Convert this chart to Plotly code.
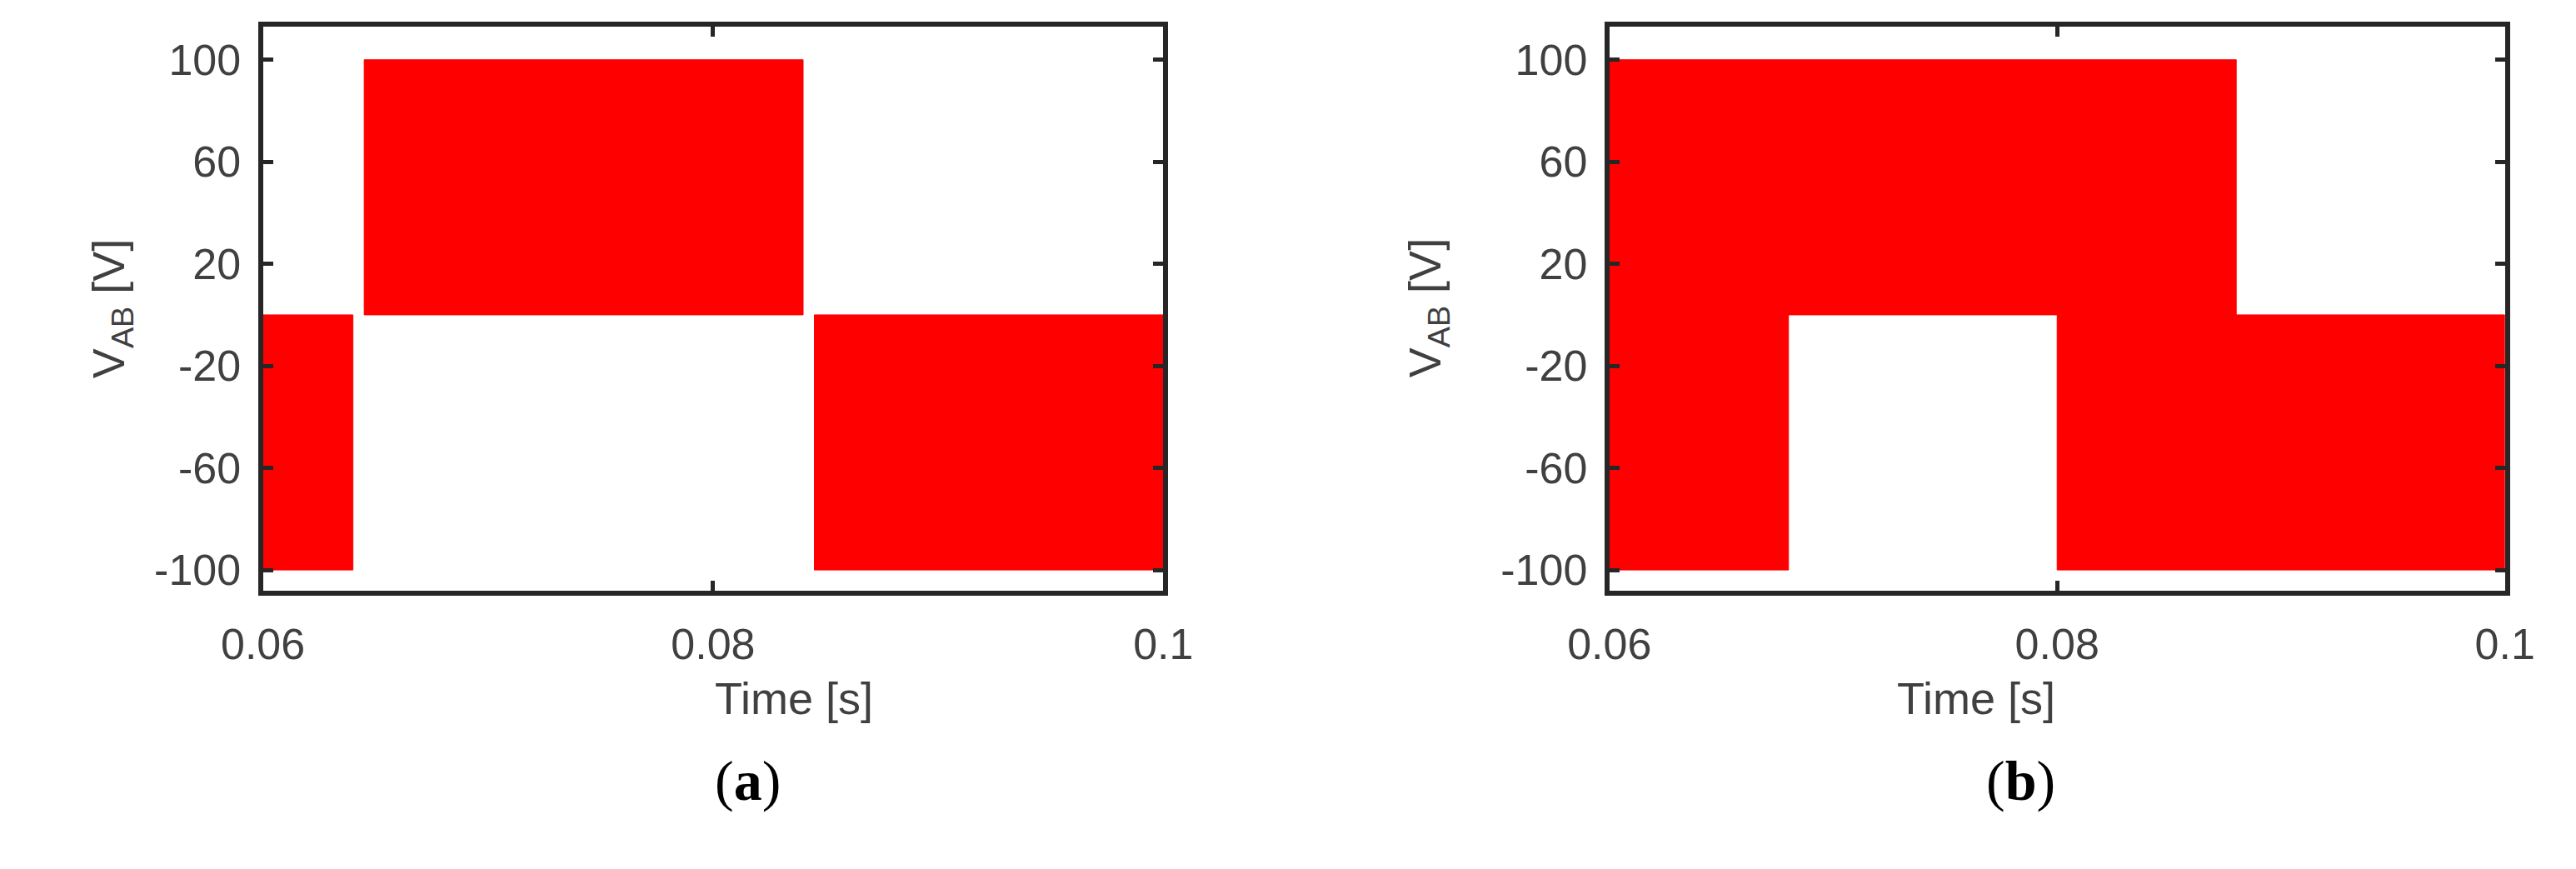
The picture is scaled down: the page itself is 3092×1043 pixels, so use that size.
import plotly.graph_objects as go

# Panel (a): blocks (t_start, t_end, low, high)
a_t0 = [0.060, 0.0645, 0.0845]
a_t1 = [0.064, 0.0840, 0.1000]
a_lo = [-100, 0, -100]
a_hi = [0, 100, 0]
# Panel (b)
b_t0 = [0.060, 0.060, 0.080]
b_t1 = [0.088, 0.068, 0.100]
b_lo = [0, -100, -100]
b_hi = [100, 0, 0]
yticks = [100, 60, 20, -20, -60, -100]
ytick_text = ["100", "60", "20", "-20", "-60", "-100"]
xticks = [0.06, 0.08, 0.1]
xtick_text = ["0.06", "0.08", "0.1"]

W, H = 3092, 1043
fig = go.Figure()
RED = "#ff0000"

def add_blocks(t0, t1, lo, hi, xa, ya):
    for s, e, l, h in zip(t0, t1, lo, hi):
        fig.add_trace(go.Scatter(x=[s, e, e, s, s], y=[l, l, h, h, l], mode="lines",
                                 fill="toself", fillcolor=RED, line=dict(color=RED, width=1),
                                 xaxis=xa, yaxis=ya, showlegend=False, hoverinfo="skip"))

add_blocks(a_t0, a_t1, a_lo, a_hi, "x", "y")
add_blocks(b_t0, b_t1, b_lo, b_hi, "x2", "y2")

ydom = [1 - 704 / H, 1 - 24 / H]
tickfont = dict(family="Liberation Sans, Arial", size=52, color="#404040")
common_x = dict(range=[0.06, 0.1], tickvals=xticks, ticktext=xtick_text, ticks="inside",
                ticklen=12, tickwidth=5, tickcolor="#262626", showline=True, linewidth=6,
                linecolor="#262626", mirror="ticks", showgrid=False, zeroline=False,
                tickfont=tickfont, ticklabelstandoff=14)
common_y = dict(range=[-108, 113], tickvals=yticks, ticktext=ytick_text, ticks="inside",
                ticklen=12, tickwidth=5, tickcolor="#262626", showline=True, linewidth=6,
                linecolor="#262626", mirror="ticks", showgrid=False, zeroline=False,
                tickfont=tickfont, ticklabelstandoff=10)

AX = [264, 1376]
BX = [1927, 3033]
fig.update_layout(
    width=W, height=H, margin=dict(l=0, r=0, t=0, b=0),
    paper_bgcolor="white", plot_bgcolor="white",
    xaxis=dict(domain=[AX[0] / W, AX[1] / W], anchor="y", **common_x),
    yaxis=dict(domain=ydom, anchor="x", **common_y),
    xaxis2=dict(domain=[BX[0] / W, BX[1] / W], anchor="y2", **common_x),
    yaxis2=dict(domain=ydom, anchor="x2", **common_y),
)

lab = dict(family="Liberation Sans, Arial", size=54, color="#404040")
for cx, lx in [(sum(AX) / 2, 40), (sum(BX) / 2, 1703)]:
    fig.add_annotation(x=cx / W, y=1 - 866 / H, xref="paper", yref="paper",
                       text="Time [s]", showarrow=False, font=lab)
    fig.add_annotation(x=lx / W, y=(ydom[0] + ydom[1]) / 2, xref="paper", yref="paper",
                       text="V<sub>AB</sub> [V]", textangle=-90, showarrow=False, font=lab)
for cx, t in [(sum(AX) / 2, "(<b>a</b>)"), (sum(BX) / 2, "(<b>b</b>)")]:
    fig.add_annotation(x=cx / W, y=1 - 974 / H, xref="paper", yref="paper", text=t,
                       showarrow=False, font=dict(family="Liberation Serif, Times New Roman",
                                                  size=68, color="black"))

fig.write_html("out.html")
